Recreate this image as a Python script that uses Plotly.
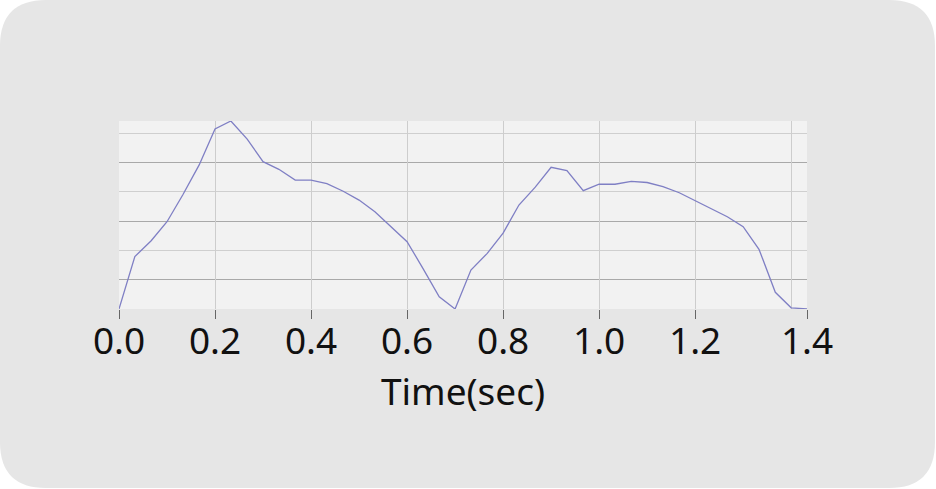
import plotly.graph_objects as go

# sample times (s), one sample every 1/30 s
time_sec = [0.000, 0.033, 0.067, 0.100, 0.133, 0.167, 0.200, 0.233, 0.267, 0.300,
            0.333, 0.367, 0.400, 0.433, 0.467, 0.500, 0.533, 0.567, 0.600, 0.633,
            0.667, 0.700, 0.733, 0.767, 0.800, 0.833, 0.867, 0.900, 0.933, 0.967,
            1.000, 1.033, 1.067, 1.100, 1.133, 1.167, 1.200, 1.233, 1.267, 1.300,
            1.333, 1.367, 1.400, 1.433]

signal = [0.00, 1.79, 2.33, 2.98, 3.90, 4.92, 6.15, 6.42, 5.80, 5.03,
          4.77, 4.40, 4.40, 4.28, 4.02, 3.72, 3.32, 2.81, 2.30, 1.39,
          0.42, 0.00, 1.33, 1.90, 2.59, 3.55, 4.16, 4.84, 4.73, 4.04,
          4.26, 4.26, 4.36, 4.32, 4.18, 3.97, 3.70, 3.43, 3.15, 2.81,
          2.04, 0.57, 0.04, 0.00]

tick_vals = [0.0, 0.2, 0.4, 0.6, 0.8, 1.0, 1.2, 1.433]
tick_text = ["0.0", "0.2", "0.4", "0.6", "0.8", "1.0", "1.2", "1.4"]
grid_vals = [0.2, 0.4, 0.6, 0.8, 1.0, 1.2, 1.4]

W, H = 936, 489
L, R, T, B = 119, 129, 121, 180
pw, ph = W - L - R, H - T - B


def px2paper(x, y):
    return (x - L) / pw, (H - B - y) / ph


def rounded_card(x0, y0, x1, y1, r):
    pts = [("M", x0 + r, y0), ("L", x1 - r, y0), ("Q", x1, y0, x1, y0 + r),
           ("L", x1, y1 - r), ("Q", x1, y1, x1 - r, y1), ("L", x0 + r, y1),
           ("Q", x0, y1, x0, y1 - r), ("L", x0, y0 + r), ("Q", x0, y0, x0 + r, y0)]
    out = []
    for p in pts:
        cmd, coords = p[0], p[1:]
        parts = []
        for i in range(0, len(coords), 2):
            a, b = px2paper(coords[i], coords[i + 1])
            parts.append(f"{a:.5f},{b:.5f}")
        out.append(cmd + " ".join(parts))
    return " ".join(out) + " Z"


fig = go.Figure()
fig.add_trace(go.Scatter(x=time_sec, y=signal, mode="lines",
                         line=dict(color="#7f7fc4", width=1.3),
                         xaxis="x", yaxis="y", showlegend=False))
# invisible trace to activate the grid axis
fig.add_trace(go.Scatter(x=[time_sec[0]], y=[signal[0]], mode="markers",
                         marker=dict(opacity=0), xaxis="x2", yaxis="y",
                         showlegend=False, hoverinfo="skip"))

font = "Noto Sans, sans-serif"
fig.update_layout(
    width=W, height=H,
    margin=dict(l=L, r=R, t=T, b=B),
    paper_bgcolor="white",
    plot_bgcolor="rgba(0,0,0,0)",
    xaxis=dict(range=[0, 1.433], tickvals=tick_vals, ticktext=tick_text,
               showgrid=False, zeroline=False, showline=False,
               ticks="outside", ticklen=9, tickcolor="#666666", tickwidth=1,
               ticklabelstandoff=-9,
               tickfont=dict(family=font, size=37, color="#111111"),
               title=dict(text="Time(sec)", standoff=0,
                          font=dict(family=font, size=37, color="#111111"))),
    xaxis2=dict(overlaying="x", matches="x", range=[0, 1.433],
                tickvals=grid_vals, showticklabels=False, ticks="",
                showgrid=True, gridcolor="#cdcdcd", gridwidth=1,
                zeroline=False, showline=False),
    yaxis=dict(range=[0, 6.42], showticklabels=False, ticks="",
               tick0=1, dtick=2, showgrid=True, gridcolor="#a9a9a9",
               gridwidth=1, zeroline=False, showline=False,
               minor=dict(tick0=0, dtick=2, showgrid=True,
                          gridcolor="#cfcfcf", gridwidth=1)),
    shapes=[dict(type="path", xref="paper", yref="paper", layer="below",
                 path=rounded_card(0, 0, W - 1, H - 1, 46),
                 fillcolor="#e6e6e6", line=dict(width=0)),
            dict(type="rect", xref="paper", yref="paper", layer="below",
                 x0=0, x1=1, y0=0, y1=1,
                 fillcolor="#f2f2f2", line=dict(width=0))],
)

fig.write_html("out.html", config={"displayModeBar": False},
               post_script="document.body.style.margin='0';")
